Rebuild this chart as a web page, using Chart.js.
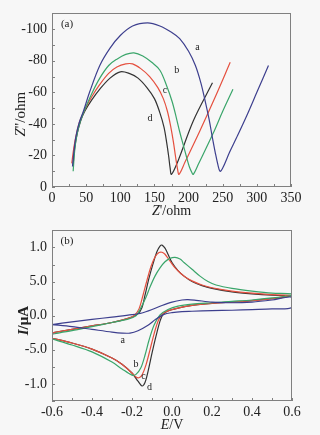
<!DOCTYPE html>
<html><head><meta charset="utf-8">
<script src="https://cdn.jsdelivr.net/npm/chart.js@4.4.1/dist/chart.umd.min.js"></script>
<style>
html,body{margin:0;padding:0;background:#f7f7f7;width:320px;height:435px;overflow:hidden}
#c1{position:absolute;left:0;top:0}
#c2{position:absolute;left:0;top:217px}
</style></head><body>
<canvas id="c1" width="320" height="217"></canvas>
<canvas id="c2" width="320" height="218"></canvas>
<script>
// ---------- Panel (a): Nyquist plot, [Z'(ohm), -Z''(ohm)] ----------
const eisA = [[30,13],[32,22],[35,32],[40,41],[46,48],[55,60],[70,77],[85,88],[100,96],[118,102],[140,104],[158,102],[175,98],[187,94],[200,86],[210,77],[218,66],[224,55],[230,43],[235,31],[239,22],[243,14],[246,10],[250,12],[260,22],[270,31],[285,45],[300,60],[317,77]];
const eisB = [[31,10],[33,22],[36,32],[41,41],[47,48],[58,59],[70,69],[83,77],[95,81],[108,84],[120,85],[133,83],[146,79],[158,74],[168,64],[176,54],[182,44],[187,35],[192,27],[197,19],[201,13],[205,9],[207,8],[215,15],[236,34],[250,48],[265,62]];
const eisC = [[29,15],[32,25],[36,34],[41,42],[48,49],[58,57],[70,65],[83,72],[95,76],[108,78],[118,78],[130,75],[143,70],[155,63],[163,56],[169,48],[174,38],[178,28],[181,19],[184,11],[186,8],[195,16],[217,36],[240,58],[261,79]];
const eisD = [[31,14],[33,24],[37,34],[42,42],[48,48],[58,55],[70,62],[85,69],[100,73],[113,72],[126,69],[139,63],[150,56],[158,47],[164,38],[168,28],[171,19],[173,12],[175,8],[185,17],[207,42],[235,66]];
const eisXTicks = [0,50,100,150,200,250,300,350];
const eisXLabels = ['0','50','100','150','200','250','300','350'];
const eisYTicks = [0,20,40,60,80,100];
const eisYLabels = ['0','-20','-40','-60','-80','-100'];
const eisCurveNames = ['a','b','c','d'];
const eisNamePos = [[213,88.5],[182.6,73.8],[165.5,61],[143.5,43.6]];

// ---------- Panel (b): cyclic voltammograms, [E(V), I] ----------
const cvA_anodic = [[-0.6,-0.13],[-0.5,-0.09],[-0.4,-0.055],[-0.3,-0.02],[-0.2,0.015],[-0.15,0.04],[-0.1,0.09],[-0.05,0.15],[0.0,0.2],[0.05,0.23],[0.08,0.235],[0.12,0.225],[0.2,0.2],[0.3,0.19],[0.4,0.2],[0.5,0.23],[0.6,0.27]];
const cvA_cathodic = [[-0.6,-0.13],[-0.5,-0.16],[-0.4,-0.2],[-0.3,-0.24],[-0.25,-0.255],[-0.21,-0.255],[-0.17,-0.22],[-0.12,-0.14],[-0.08,-0.05],[-0.04,0.02],[0.0,0.045],[0.05,0.06],[0.1,0.065],[0.2,0.075],[0.3,0.08],[0.4,0.09],[0.5,0.1],[0.6,0.12]];
const cvB_anodic = [[-0.6,-0.27],[-0.5,-0.22],[-0.4,-0.16],[-0.3,-0.1],[-0.22,-0.05],[-0.18,0.0],[-0.16,0.09],[-0.13,0.27],[-0.11,0.42],[-0.085,0.58],[-0.06,0.7],[-0.035,0.79],[-0.01,0.84],[0.015,0.855],[0.04,0.83],[0.06,0.78],[0.1,0.68],[0.14,0.58],[0.18,0.5],[0.22,0.45],[0.3,0.4],[0.4,0.36],[0.5,0.33],[0.6,0.32]];
const cvB_cathodic = [[-0.6,-0.34],[-0.5,-0.43],[-0.4,-0.53],[-0.3,-0.68],[-0.25,-0.78],[-0.2,-0.87],[-0.18,-0.86],[-0.155,-0.76],[-0.135,-0.58],[-0.115,-0.36],[-0.09,-0.14],[-0.06,0.01],[-0.02,0.09],[0.03,0.14],[0.1,0.17],[0.2,0.19],[0.3,0.21],[0.4,0.23],[0.5,0.26],[0.6,0.3]];
const cvC_anodic = [[-0.6,-0.25],[-0.5,-0.2],[-0.4,-0.15],[-0.3,-0.1],[-0.22,-0.04],[-0.19,0.0],[-0.165,0.1],[-0.145,0.3],[-0.125,0.52],[-0.105,0.72],[-0.085,0.86],[-0.065,0.925],[-0.05,0.93],[-0.035,0.9],[-0.015,0.82],[0.01,0.72],[0.04,0.63],[0.07,0.56],[0.1,0.51],[0.15,0.45],[0.2,0.41],[0.3,0.36],[0.4,0.33],[0.5,0.31],[0.6,0.3]];
const cvC_cathodic = [[-0.6,-0.33],[-0.5,-0.4],[-0.4,-0.49],[-0.3,-0.62],[-0.25,-0.71],[-0.2,-0.84],[-0.18,-0.9],[-0.165,-0.91],[-0.15,-0.87],[-0.13,-0.72],[-0.11,-0.5],[-0.09,-0.27],[-0.07,-0.08],[-0.05,0.02],[-0.02,0.07],[0.03,0.11],[0.1,0.15],[0.2,0.18],[0.3,0.2],[0.4,0.22],[0.5,0.25],[0.6,0.3]];
const cvD_anodic = [[-0.6,-0.25],[-0.5,-0.2],[-0.4,-0.15],[-0.3,-0.1],[-0.22,-0.04],[-0.17,0.03],[-0.15,0.12],[-0.135,0.3],[-0.115,0.55],[-0.095,0.76],[-0.075,0.94],[-0.06,1.02],[-0.05,1.035],[-0.035,0.99],[-0.02,0.9],[0.0,0.78],[0.03,0.66],[0.06,0.58],[0.1,0.5],[0.15,0.44],[0.2,0.4],[0.3,0.35],[0.4,0.32],[0.5,0.3],[0.6,0.29]];
const cvD_cathodic = [[-0.6,-0.33],[-0.5,-0.4],[-0.4,-0.49],[-0.3,-0.62],[-0.25,-0.71],[-0.2,-0.84],[-0.17,-0.96],[-0.15,-1.03],[-0.135,-0.98],[-0.12,-0.82],[-0.1,-0.55],[-0.08,-0.3],[-0.06,-0.08],[-0.045,0.02],[-0.02,0.07],[0.03,0.11],[0.1,0.15],[0.2,0.18],[0.3,0.2],[0.4,0.22],[0.5,0.25],[0.6,0.29]];
const cvXTicks = [-0.6,-0.4,-0.2,0,0.2,0.4,0.6];
const cvXLabels = ['-0.6','-0.4','-0.2','0.0','0.2','0.4','0.6'];
const cvYTicks = [-1,-0.5,0,0.5,1];
const cvYLabels = ['-1.0','-5.0','0.0','5.0','1.0'];
const cvCurveNames = ['a','b','c','d'];
const cvNamePos = [[-0.247,-0.36],[-0.18,-0.71],[-0.143,-0.89],[-0.113,-1.05]];

const colors = ['#3d3f8e','#3aa56a','#e5503f','#333333'];
const SERIF = '"Liberation Serif", "DejaVu Serif", serif';

function pts(arr){ return arr.map(p => ({x:p[0], y:p[1]})); }
function loop(an, ca){ return pts(an.concat(ca.slice().reverse())); }

function drawMixed(ctx, parts, cx, cy, size, rot){
  ctx.save();
  ctx.translate(cx, cy);
  if (rot) ctx.rotate(rot);
  let w = 0;
  parts.forEach(p => { ctx.font = (p[1]||'') + ' ' + size + 'px ' + SERIF; w += ctx.measureText(p[0]).width; });
  let x = -w/2;
  ctx.textBaseline = 'middle'; ctx.textAlign = 'left'; ctx.fillStyle = '#222';
  parts.forEach(p => { ctx.font = (p[1]||'') + ' ' + size + 'px ' + SERIF; ctx.fillText(p[0], x, 0); x += ctx.measureText(p[0]).width; });
  ctx.restore();
}

const framePlugin = {
  id: 'frame',
  afterDraw(chart, args, o) {
    const ctx = chart.ctx, a = chart.chartArea, xs = chart.scales.x, ys = chart.scales.y;
    ctx.save();
    ctx.strokeStyle = '#808080'; ctx.lineWidth = 1;
    ctx.strokeRect(Math.round(a.left)+0.5, Math.round(a.top)+0.5, Math.round(a.right-a.left)-1, Math.round(a.bottom-a.top)-1);
    ctx.beginPath();
    for (let v = o.xMin; v <= xs.max + 1e-9; v += o.xMinor) {
      const p = Math.round(xs.getPixelForValue(v)) + 0.5;
      ctx.moveTo(p, a.bottom); ctx.lineTo(p, a.bottom - 3);
    }
    for (let v = o.yMin; v <= ys.max + 1e-9; v += o.yMinor) {
      const p = Math.round(ys.getPixelForValue(v)) + 0.5;
      ctx.moveTo(a.left, p); ctx.lineTo(a.left + 3, p);
    }
    ctx.stroke();
    ctx.fillStyle = '#222'; ctx.textAlign = 'center'; ctx.textBaseline = 'middle';
    ctx.font = '10px ' + SERIF;
    o.names.forEach((n, i) => ctx.fillText(n, xs.getPixelForValue(o.namePos[i][0]), ys.getPixelForValue(o.namePos[i][1])));
    ctx.font = '11px ' + SERIF;
    ctx.fillText(o.panel, a.left + 15, a.top + 11);
    drawMixed(ctx, o.xTitle, (a.left + a.right)/2, o.xTitleY, 14, 0);
    drawMixed(ctx, o.yTitle, o.yTitleX, (a.top + a.bottom)/2 + o.yTitleDy, 15, -Math.PI/2);
    ctx.restore();
  }
};

function axis(min, max, tickVals, tickLabels, isY, size) {
  return {
    type: 'linear', min, max,
    afterBuildTicks: s => { s.ticks = tickVals.map(v => ({value: v})); },
    afterFit: s => { if (isY) s.width = size; else s.height = size; },
    grid: {display: true, drawOnChartArea: false, drawTicks: false},
    border: {display: false},
    ticks: {
      color: '#222', padding: isY ? 5 : 3, maxRotation: 0, autoSkip: false,
      font: {family: SERIF, size: 14},
      callback: (v, i) => tickLabels[i]
    }
  };
}

function ds(data, i, tension) {
  return {data, borderColor: colors[i], borderWidth: 1.2, pointRadius: 0, showLine: true, fill: false, tension};
}

new Chart(document.getElementById('c1'), {
  type: 'scatter',
  data: {datasets: [ds(pts(eisA),0,0.35), ds(pts(eisB),1,0.35), ds(pts(eisC),2,0.35), ds(pts(eisD),3,0.35)]},
  options: {
    responsive: false, animation: false, events: [],
    layout: {padding: {left: 0, right: 29, top: 7, bottom: 0}},
    plugins: {legend: {display: false}, tooltip: {enabled: false},
      frame: {xMin: 0, xMinor: 25, yMin: 0, yMinor: 10, names: eisCurveNames, namePos: eisNamePos, panel: '(a)',
        xTitle: [['Z','italic'],["'/ohm",'']], xTitleY: 211, yTitle: [['Z','italic'],["''/ohm",'']], yTitleX: 21, yTitleDy: 14}},
    scales: {
      x: axis(0, 350, eisXTicks, eisXLabels, false, 30),
      y: axis(0, 110, eisYTicks, eisYLabels, true, 52)
    }
  },
  plugins: [framePlugin]
});

new Chart(document.getElementById('c2'), {
  type: 'scatter',
  data: {datasets: [ds(loop(cvA_anodic, cvA_cathodic),0,0.3), ds(loop(cvB_anodic, cvB_cathodic),1,0.3), ds(loop(cvC_anodic, cvC_cathodic),2,0.3), ds(loop(cvD_anodic, cvD_cathodic),3,0.3)]},
  options: {
    responsive: false, animation: false, events: [],
    layout: {padding: {left: 0, right: 28, top: 6, bottom: 0}},
    plugins: {legend: {display: false}, tooltip: {enabled: false},
      frame: {xMin: -0.6, xMinor: 0.1, yMin: -1.25, yMinor: 0.25, names: cvCurveNames, namePos: cvNamePos, panel: '(b)',
        xTitle: [['E','italic'],['/V','']], xTitleY: 208, yTitle: [['I','italic bold'],['/μA','bold']], yTitleX: 24, yTitleDy: 5}},
    scales: {
      x: axis(-0.6, 0.6, cvXTicks, cvXLabels, false, 34),
      y: axis(-1.25, 1.25, cvYTicks, cvYLabels, true, 52)
    }
  },
  plugins: [framePlugin]
});
</script>
</body></html>
